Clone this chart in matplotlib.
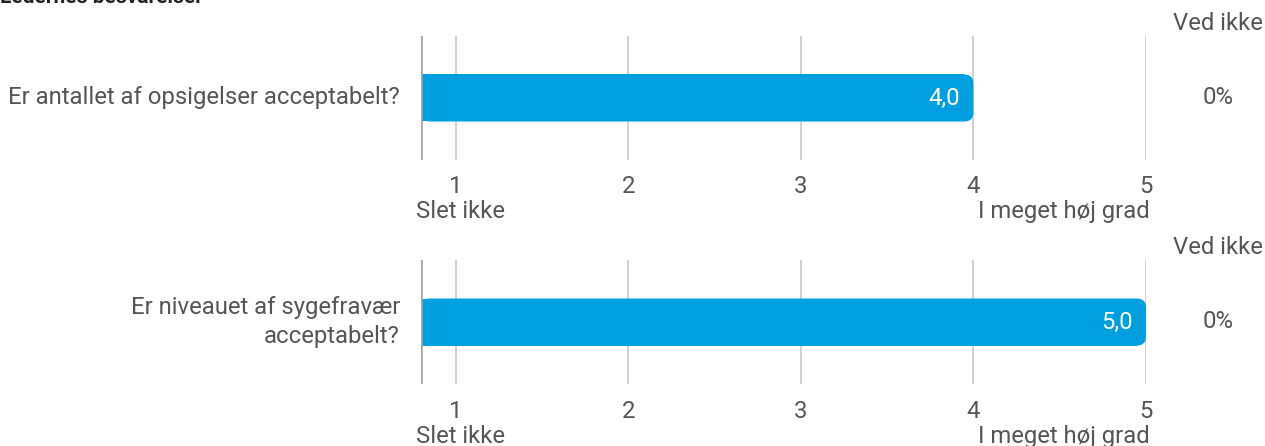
import matplotlib.pyplot as plt
from matplotlib.patches import FancyBboxPatch
from matplotlib.transforms import blended_transform_factory

plt.rcParams['font.family'] = ['Roboto', 'DejaVu Sans']

title = 'Ledernes besvarelser'
questions = ['Er antallet af opsigelser acceptabelt?',
             'Er niveauet af sygefravær\nacceptabelt?']
scores = [4.0, 5.0]
dont_know = ['0%', '0%']
ticks = [1, 2, 3, 4, 5]
low_label = 'Slet ikke'
high_label = 'I meget høj grad'
dk_header = 'Ved ikke'

bar_color = '#009fe0'
text_color = '#555555'
fs = 17.2
W, H = 1265, 446

fig = plt.figure(figsize=(W / 100, H / 100), dpi=100)
# title sits mostly above the top edge, as in the source
fig.text(0.0, 1 - 3 / H, title, fontsize=15, fontweight='bold',
         color='#222222', ha='left', va='baseline')

xmin, xmax = 0.8, 5.0
px_per_unit = 725 / (xmax - xmin)
tops = [36, 260]

for q, s, dk, top in zip(questions, scores, dont_know, tops):
    ax = fig.add_axes([421 / W, 1 - (top + 124) / H, 725 / W, 124 / H])
    ax.set_xlim(xmin, xmax)
    ax.set_ylim(0, 1)
    ax.axis('off')
    for t in ticks:
        ax.plot([t, t], [0, 1], color='#c4c4c4', lw=1.1, zorder=1)
    ax.plot([xmin, xmin], [0, 1], color='#a6a6a6', lw=2.6, zorder=4,
            solid_capstyle='butt')

    # bar with rounded right end
    bh = 47 / 124
    r_px = 9
    rx = r_px / px_per_unit
    ry = r_px / 124
    ax.barh(0.5, s - rx - xmin, left=xmin, height=bh, color=bar_color,
            zorder=2, linewidth=0)
    ax.add_patch(FancyBboxPatch((xmin + rx, 0.5 - bh / 2 + ry), s - xmin - 2 * rx, bh - 2 * ry,
                                boxstyle='round,pad=%f' % rx, mutation_aspect=ry / rx,
                                facecolor=bar_color, edgecolor='none', zorder=2))
    ax.text(s - 13 / px_per_unit, 0.5, f'{s:.1f}'.replace('.', ','), color='white',
            fontsize=fs, ha='right', va='center', zorder=5)

    ax.text(-21 / 725, 0.5, q, transform=ax.transAxes, ha='right', va='center',
            fontsize=fs, color=text_color, linespacing=1.3, multialignment='right')

    tr = blended_transform_factory(ax.transData, ax.transAxes)
    for t in ticks:
        ax.text(t, -27 / 124, str(t), transform=tr, ha='center', va='center',
                fontsize=fs, color=text_color)
    ax.text(ticks[0] + 5 / px_per_unit, -52 / 124, low_label, transform=tr, ha='center',
            va='center', fontsize=fs, color=text_color)
    ax.text(ticks[-1] + 4 / px_per_unit, -52 / 124, high_label, transform=tr, ha='right',
            va='center', fontsize=fs, color=text_color)

    ax.text(xmax + 72 / px_per_unit, 0.5, dk, transform=tr, ha='center', va='center',
            fontsize=fs, color=text_color)
    ax.text(1263 / W, 1 - (top - 13) / H, dk_header, transform=fig.transFigure,
            ha='right', va='center', fontsize=fs, color=text_color)

fig.savefig('out.png', dpi=100)
